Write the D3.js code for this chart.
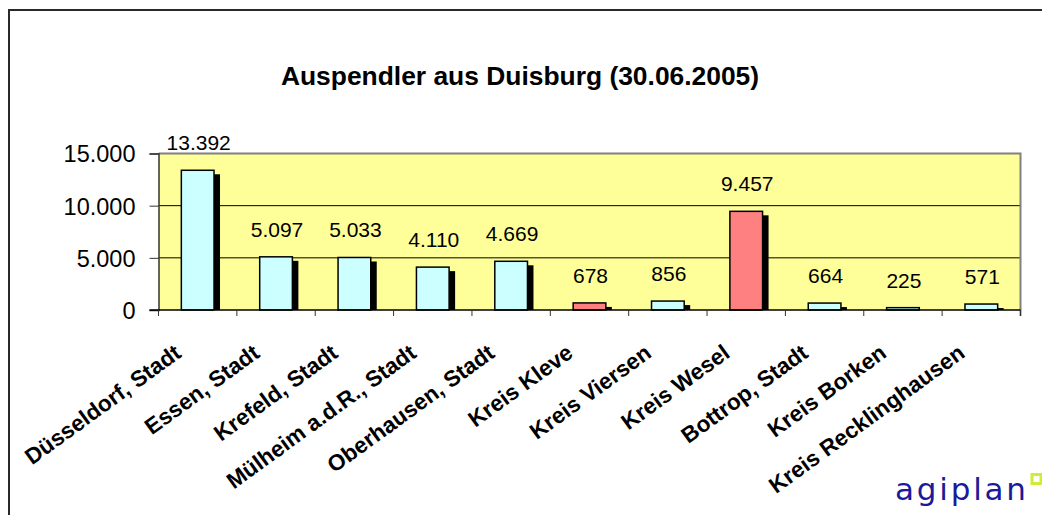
<!DOCTYPE html>
<meta charset="utf-8">
<style>
body { margin: 0; background: #fff; }
svg { display: block; font-family: "Liberation Sans", Arial, sans-serif; }
.grid line { stroke: #000; stroke-width: 1; }
.bar { stroke: #000; stroke-width: 1.5px; }
.shadow { fill: #000; }
.ylab { font-size: 23.5px; fill: #000; }
.vlab { font-size: 21px; fill: #000; }
.xlab { font-size: 22.5px; font-weight: bold; fill: #000; }
</style>
<svg width="1042" height="515"></svg>
<script src="https://d3js.org/d3.v7.min.js"></script>
<script>

  var categories = ["Düsseldorf, Stadt", "Essen, Stadt", "Krefeld, Stadt", "Mülheim a.d.R., Stadt",
                    "Oberhausen, Stadt", "Kreis Kleve", "Kreis Viersen", "Kreis Wesel",
                    "Bottrop, Stadt", "Kreis Borken", "Kreis Recklinghausen"];
  var values = [13392, 5097, 5033, 4110, 4669, 678, 856, 9457, 664, 225, 571];
  var highlighted = ["Kreis Kleve", "Kreis Wesel"];
  var yTicks = [0, 5000, 10000, 15000];
  var title = "Auspendler aus Duisburg (30.06.2005)";

  var svg = d3.select("svg");
  var plot = {left: 158.5, right: 1020.5, top: 153.5, bottom: 310};

  var de = d3.formatLocale({decimal: ",", thousands: ".", grouping: [3], currency: ["", " €"]});
  var fmt = de.format(",d");

  var x = d3.scaleBand().domain(categories).range([plot.left, plot.right])
      .paddingInner(0.583).paddingOuter(0.2915);
  var xs = d3.scaleBand().domain(categories).range([plot.left, plot.right]);
  var y = d3.scaleLinear().domain([0, 15000]).range([plot.bottom, plot.top]);

  // outer frame (open on right / bottom)
  svg.append("rect")
      .attr("x", 9).attr("y", 10).attr("width", 1200).attr("height", 700)
      .attr("fill", "none").attr("stroke", "#2a2a2a").attr("stroke-width", 2);

  svg.append("text")
      .attr("x", 520).attr("y", 85)
      .attr("text-anchor", "middle")
      .style("font-size", "26.4px").style("font-weight", "bold")
      .text(title);

  // plot background
  svg.append("rect")
      .attr("x", plot.left).attr("y", plot.top)
      .attr("width", plot.right - plot.left).attr("height", plot.bottom - plot.top)
      .attr("fill", "#ffff99");

  svg.append("g").attr("class", "grid")
    .selectAll("line")
    .data(yTicks.filter(function(d) { return d > 0 && d < 15000; }))
    .enter().append("line")
      .attr("x1", plot.left).attr("x2", plot.right)
      .attr("y1", function(d) { return y(d); }).attr("y2", function(d) { return y(d); });

  // top + right border
  svg.append("path")
      .attr("d", "M" + plot.left + "," + plot.top + "H" + plot.right + "V" + (plot.bottom + 6))
      .attr("fill", "none").attr("stroke", "#808080").attr("stroke-width", 2);

  // shadows
  svg.append("g").selectAll("rect")
    .data(values)
    .enter().append("rect")
      .attr("class", "shadow")
      .attr("x", function(d, i) { return x(categories[i]) + 6; })
      .attr("y", function(d) { return Math.min(y(d) + 4, plot.bottom); })
      .attr("width", x.bandwidth())
      .attr("height", function(d) { return Math.max(0, plot.bottom - y(d) - 4); });

  svg.append("g").selectAll("rect")
    .data(values)
    .enter().append("rect")
      .attr("class", "bar")
      .attr("x", function(d, i) { return x(categories[i]); })
      .attr("y", function(d) { return y(d); })
      .attr("width", x.bandwidth())
      .attr("height", function(d) { return plot.bottom - y(d); })
      .attr("fill", function(d, i) { return highlighted.indexOf(categories[i]) >= 0 ? "#ff8080" : "#ccffff"; });

  svg.append("g").selectAll("text")
    .data(values)
    .enter().append("text")
      .attr("class", "vlab")
      .attr("x", function(d, i) { return x(categories[i]) + x.bandwidth() / 2 + 1; })
      .attr("y", function(d) { return y(d) - 20; })
      .attr("text-anchor", "middle")
      .text(function(d) { return fmt(d); });

  // y axis
  var yAxis = svg.append("g")
      .attr("transform", "translate(" + plot.left + ",0)")
      .call(d3.axisLeft(y).tickValues(yTicks).tickSize(9).tickPadding(14).tickFormat(fmt));
  yAxis.select(".domain").attr("stroke", "#333").attr("stroke-width", 1.5);
  yAxis.selectAll(".tick line").attr("stroke", "#333");
  yAxis.selectAll(".tick text").attr("class", "ylab").attr("dy", "0.36em")
      .attr("font-size", null).attr("font-family", null);
  yAxis.attr("font-size", null).attr("font-family", null);

  // x axis: line + boundary ticks
  var xb = svg.append("g");
  xb.append("line")
      .attr("x1", plot.left - 9).attr("x2", plot.right)
      .attr("y1", plot.bottom).attr("y2", plot.bottom)
      .attr("stroke", "#000").attr("stroke-width", 1.5);
  xb.selectAll(".xt")
    .data(categories.concat(["end"]))
    .enter().append("line")
      .attr("x1", function(d, i) { return plot.left + i * xs.step(); })
      .attr("x2", function(d, i) { return plot.left + i * xs.step(); })
      .attr("y1", plot.bottom).attr("y2", plot.bottom + 6)
      .attr("stroke", "#333");

  svg.append("g").selectAll("text")
    .data(categories)
    .enter().append("text")
      .attr("class", "xlab")
      .attr("text-anchor", "end")
      .attr("transform", function(d) {
        var cx = xs(d) + xs.bandwidth() / 2;
        return "translate(" + (cx - 15) + "," + 356 + ") rotate(-36)";
      })
      .text(function(d) { return d; });

  // logo
  svg.append("text")
      .attr("x", 895).attr("y", 500)
      .style("font-family", "'DejaVu Sans', sans-serif")
      .style("font-size", "31px").style("letter-spacing", "2.8px")
      .attr("fill", "#1a1a9a")
      .text("agiplan");
  svg.append("rect")
      .attr("x", 1032).attr("y", 474.5).attr("width", 9).attr("height", 9)
      .attr("fill", "none").attr("stroke", "#ccee33").attr("stroke-width", 3);

</script>
